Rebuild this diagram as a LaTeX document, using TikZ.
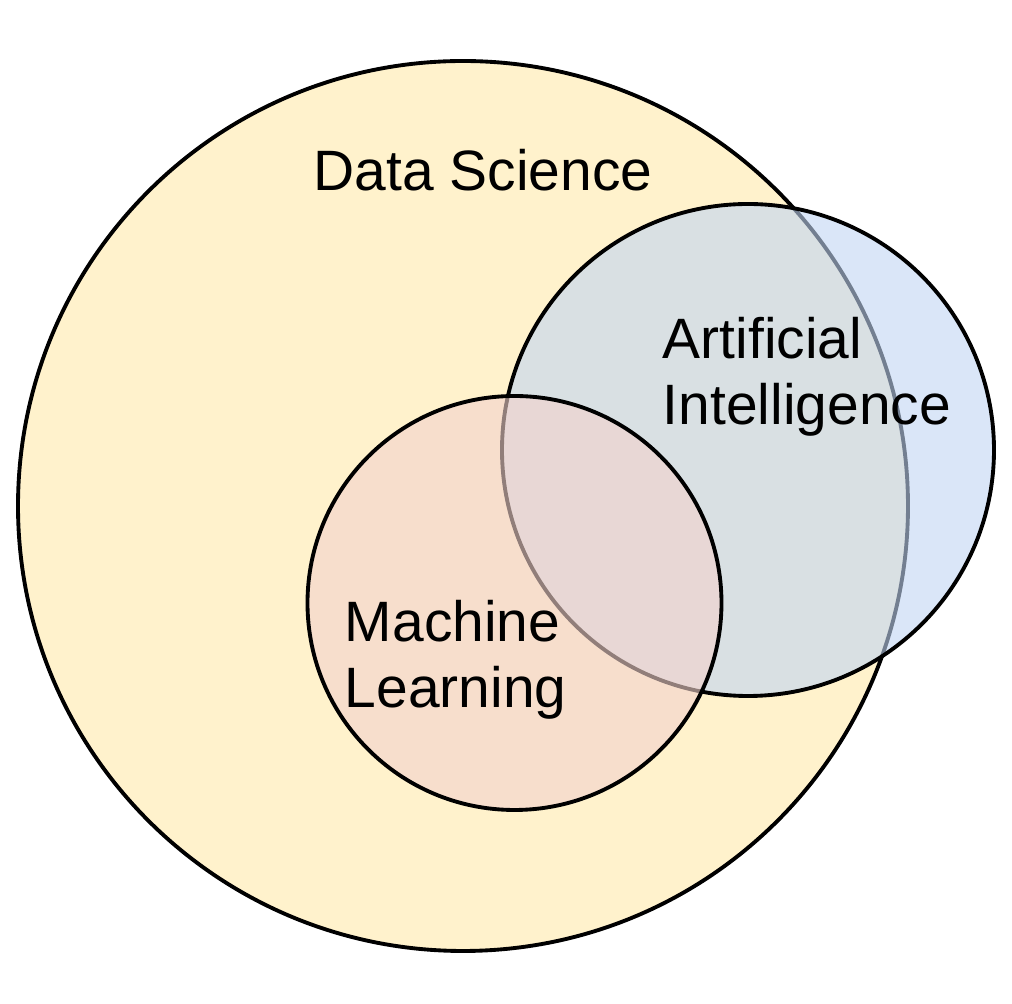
\documentclass[tikz,border=0pt]{standalone}
\usepackage{fontspec}
\setmainfont{Liberation Sans}
\usetikzlibrary{positioning}

\definecolor{dsyellow}{RGB}{255,242,204}
\definecolor{aiblue}{RGB}{193,213,243}
\definecolor{mlred}{RGB}{243,210,204}

\begin{document}
\begin{tikzpicture}[every node/.style={circle,draw,line width=1.1pt,inner sep=0pt},
    label text/.style={draw=none,rectangle,inner sep=0pt,align=left,font=\fontsize{16.2}{18.8}\selectfont}]
            % the picture frame
            \useasboundingbox (0,0) rectangle (10.12,10.04);
            % circles: data science, artificial intelligence, machine learning
            \node[fill=dsyellow,minimum size=8.9cm](ds) at (4.63,4.98) {};
            \node[fill=aiblue,fill opacity=0.6,draw opacity=1,minimum size=4.92cm](ai) at (7.48,5.54) {};
            \node[fill=mlred,fill opacity=0.6,draw opacity=1,minimum size=4.14cm](ml) at (5.145,4.01) {};

            % the labels
            \node[label text,anchor=base](dslabel) at (4.83,8.13) {Data Science};
            \node[label text,anchor=base west](ailabel) at (6.61,5.79) {Artificial\\Intelligence};
            \node[label text,anchor=base west](mllabel) at (3.43,2.96) {Machine\\Learning};
        \end{tikzpicture}
\end{document}
